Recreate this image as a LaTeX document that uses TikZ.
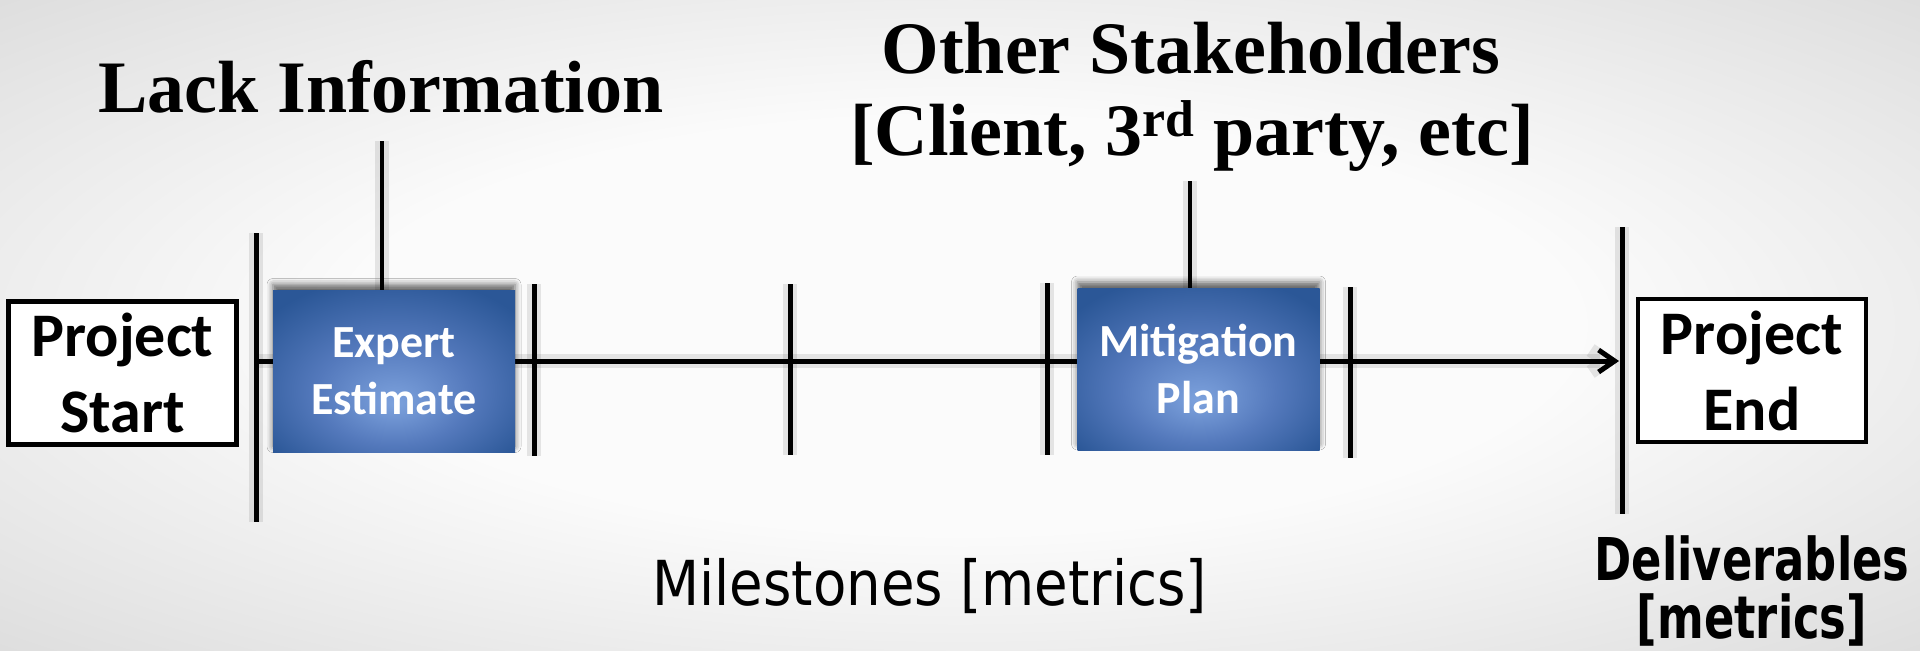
\documentclass[tikz,border=0pt]{standalone}
\usepackage{fontspec}
\setmainfont{Liberation Serif}
\newfontfamily\carlito{Carlito}
\newfontfamily\sansnarrow[FakeStretch=0.88]{DejaVu Sans}
\newfontfamily\sansbold[FakeStretch=0.76]{DejaVu Sans}
\usetikzlibrary{arrows.meta,shadows.blur}

\definecolor{bginner}{HTML}{FBFBFB}
\definecolor{bgouter}{HTML}{D4D4D4}
\definecolor{bxlight}{HTML}{7DA2DD}
\definecolor{bxmid}{HTML}{5479BC}
\definecolor{bxdark}{HTML}{2B5797}

\pgfdeclareradialshading{pagebg}{\pgfpoint{0bp}{0bp}}{color(0bp)=(bginner); color(16bp)=(bginner); color(42bp)=(bgouter); color(50bp)=(bgouter)}
\pgfdeclareradialshading{taskfill}{\pgfpoint{0bp}{-10bp}}{color(0bp)=(bxlight); color(16bp)=(bxmid); color(33bp)=(bxdark); color(50bp)=(bxdark)}

\begin{document}
\begin{tikzpicture}[x=0.5pt,y=-0.5pt,
  halo/.style={preaction={draw=black, draw opacity=0.09, line width=7pt}},
  tick/.style={draw=black, line width=2.5pt, halo},
  stem/.style={draw=black, line width=2.1pt, halo},
  endbox/.style={draw=black, line width=2.3pt, fill=white, align=center,
    inner sep=0pt, minimum width=114pt, minimum height=71.5pt,
    font=\carlito\bfseries\fontsize{31pt}{38pt}\selectfont},
  taskbox/.style={shading=taskfill, text=white, align=center, inner sep=0pt,
    minimum width=121pt, minimum height=81pt,
    blur shadow={shadow xshift=0pt, shadow yshift=3pt, shadow blur radius=3pt, shadow opacity=60},
    font=\carlito\bfseries\fontsize{23pt}{28.5pt}\selectfont},
  headline/.style={font=\bfseries\fontsize{37pt}{42pt}\selectfont, inner sep=0pt},
  deliv/.style={font=\sansbold\bfseries\fontsize{29.5pt}{29pt}\selectfont,
    inner sep=0pt, align=center}
]
% page and background
\useasboundingbox (0,0) rectangle (1920,650);
\shade[shading=pagebg] (0,0) rectangle (1920,650);

% milestone ticks along the timeline
\coordinate (t1a) at (256,233);  \coordinate (t1b) at (256,522);
\coordinate (t2a) at (534,284);  \coordinate (t2b) at (534,456);
\coordinate (t3a) at (790,284);  \coordinate (t3b) at (790,455);
\coordinate (t4a) at (1047,283); \coordinate (t4b) at (1047,455);
\coordinate (t5a) at (1350,287); \coordinate (t5b) at (1350,458);
\coordinate (t6a) at (1622,227); \coordinate (t6b) at (1622,514);
\draw[tick] (t1a) -- (t1b);
\draw[tick] (t2a) -- (t2b);
\draw[tick] (t3a) -- (t3b);
\draw[tick] (t4a) -- (t4b);
\draw[tick] (t5a) -- (t5b);
\draw[tick] (t6a) -- (t6b);

% timeline
\coordinate (lineStart) at (256,361);
\coordinate (lineEnd) at (1619,361);
\draw[line width=2.5pt, halo, -{Straight Barb[length=8pt,width=11pt]}] (lineStart) -- (lineEnd);

% start and end of the project
\node[endbox] (start) at (122.5,373) {Project\\Start};
\node[endbox] (finish) at (1752,370.5) {Project\\End};

% stems from the annotations down to the tasks
\coordinate (lackTop) at (382,141);
\coordinate (stakeTop) at (1190,181);
\draw[stem] (lackTop) -- (382,292);
\draw[stem] (stakeTop) -- (1190,290);

% task boxes
\node[taskbox] (expert) at (394,371.5) {Expert\\Estimate};
\node[taskbox] (mitig) at (1198.5,369) {Mitigation\\Plan};

% annotations
\node[headline, anchor=base west] (lack) at (98,112) {Lack Information};
\node[headline, anchor=base] (others) at (1191,73) {Other Stakeholders};
\node[headline, anchor=base] (parties) at (1192,155) {[Client, 3\textsuperscript{rd} party, etc]};
\node[anchor=base west, inner sep=0pt, font=\sansnarrow\fontsize{31pt}{36pt}\selectfont] (milestones) at (652,605) {Milestones [metrics]};
\node[deliv] (deliverables) at (1752,591) {Deliverables\\{}[metrics]};
\end{tikzpicture}
\end{document}
